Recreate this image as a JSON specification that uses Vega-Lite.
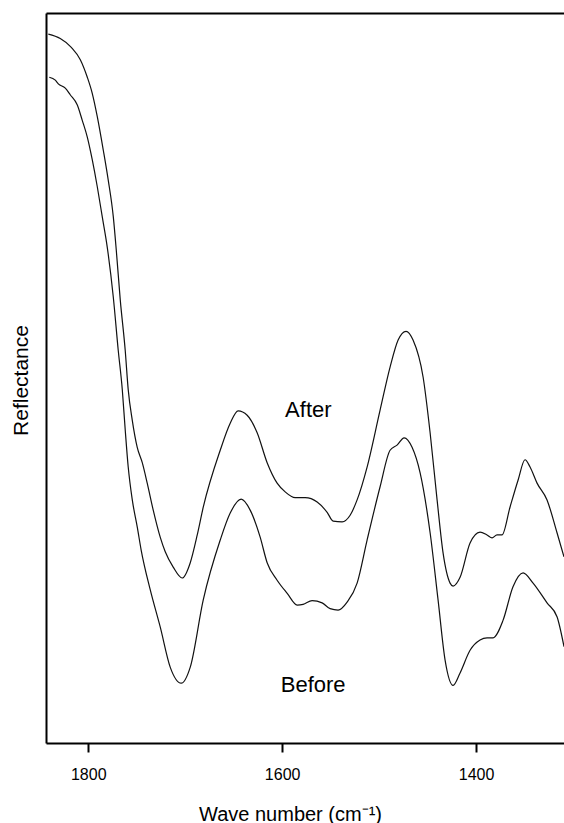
{
  "$schema": "https://vega.github.io/schema/vega-lite/v6.json",
  "width": 518,
  "height": 730,
  "autosize": {"type": "none"},
  "padding": {"left": 46, "top": 13, "right": 0, "bottom": 80},
  "background": "white",
  "config": {
    "view": {"stroke": null},
    "font": "Liberation Sans",
    "axis": {"domainColor": "#000", "domainWidth": 2, "tickColor": "#000", "labelColor": "#000", "titleColor": "#000", "grid": false, "labelFont": "Liberation Sans", "titleFont": "Liberation Sans", "titleFontWeight": "normal"}
  },
  "datasets": {
    "spectra": [
      {"wn": 1841.2, "r": 97.1, "s": "After"},
      {"wn": 1828.9, "r": 96.5, "s": "After"},
      {"wn": 1817.5, "r": 95.3, "s": "After"},
      {"wn": 1808.2, "r": 93.6, "s": "After"},
      {"wn": 1801.0, "r": 91.2, "s": "After"},
      {"wn": 1795.9, "r": 89.0, "s": "After"},
      {"wn": 1790.7, "r": 85.8, "s": "After"},
      {"wn": 1784.5, "r": 81.2, "s": "After"},
      {"wn": 1779.4, "r": 77.1, "s": "After"},
      {"wn": 1774.2, "r": 72.1, "s": "After"},
      {"wn": 1771.1, "r": 67.5, "s": "After"},
      {"wn": 1767.0, "r": 60.7, "s": "After"},
      {"wn": 1761.9, "r": 53.8, "s": "After"},
      {"wn": 1758.8, "r": 48.4, "s": "After"},
      {"wn": 1754.6, "r": 44.2, "s": "After"},
      {"wn": 1749.5, "r": 40.5, "s": "After"},
      {"wn": 1744.3, "r": 38.4, "s": "After"},
      {"wn": 1739.2, "r": 35.6, "s": "After"},
      {"wn": 1733.0, "r": 31.9, "s": "After"},
      {"wn": 1725.8, "r": 28.2, "s": "After"},
      {"wn": 1720.6, "r": 26.2, "s": "After"},
      {"wn": 1712.4, "r": 24.1, "s": "After"},
      {"wn": 1703.1, "r": 22.6, "s": "After"},
      {"wn": 1694.8, "r": 24.7, "s": "After"},
      {"wn": 1687.6, "r": 28.5, "s": "After"},
      {"wn": 1681.4, "r": 32.3, "s": "After"},
      {"wn": 1663.9, "r": 40.1, "s": "After"},
      {"wn": 1653.6, "r": 43.8, "s": "After"},
      {"wn": 1645.4, "r": 45.5, "s": "After"},
      {"wn": 1636.1, "r": 44.9, "s": "After"},
      {"wn": 1625.8, "r": 42.5, "s": "After"},
      {"wn": 1615.5, "r": 38.4, "s": "After"},
      {"wn": 1605.2, "r": 35.6, "s": "After"},
      {"wn": 1596.9, "r": 34.4, "s": "After"},
      {"wn": 1586.6, "r": 33.6, "s": "After"},
      {"wn": 1576.3, "r": 33.6, "s": "After"},
      {"wn": 1563.9, "r": 33.0, "s": "After"},
      {"wn": 1553.6, "r": 31.6, "s": "After"},
      {"wn": 1547.4, "r": 30.4, "s": "After"},
      {"wn": 1538.2, "r": 30.3, "s": "After"},
      {"wn": 1529.9, "r": 31.2, "s": "After"},
      {"wn": 1522.7, "r": 33.3, "s": "After"},
      {"wn": 1512.4, "r": 37.8, "s": "After"},
      {"wn": 1499.0, "r": 45.6, "s": "After"},
      {"wn": 1488.7, "r": 51.5, "s": "After"},
      {"wn": 1480.4, "r": 55.2, "s": "After"},
      {"wn": 1472.2, "r": 56.4, "s": "After"},
      {"wn": 1465.0, "r": 55.2, "s": "After"},
      {"wn": 1454.6, "r": 50.1, "s": "After"},
      {"wn": 1447.4, "r": 42.5, "s": "After"},
      {"wn": 1440.2, "r": 33.3, "s": "After"},
      {"wn": 1434.0, "r": 26.0, "s": "After"},
      {"wn": 1426.8, "r": 21.9, "s": "After"},
      {"wn": 1423.7, "r": 21.5, "s": "After"},
      {"wn": 1416.5, "r": 22.7, "s": "After"},
      {"wn": 1406.2, "r": 27.4, "s": "After"},
      {"wn": 1395.9, "r": 28.9, "s": "After"},
      {"wn": 1388.7, "r": 28.5, "s": "After"},
      {"wn": 1383.5, "r": 28.1, "s": "After"},
      {"wn": 1378.4, "r": 28.5, "s": "After"},
      {"wn": 1373.2, "r": 28.5, "s": "After"},
      {"wn": 1365.0, "r": 32.3, "s": "After"},
      {"wn": 1356.7, "r": 36.0, "s": "After"},
      {"wn": 1349.5, "r": 38.8, "s": "After"},
      {"wn": 1344.3, "r": 37.8, "s": "After"},
      {"wn": 1337.1, "r": 35.6, "s": "After"},
      {"wn": 1326.8, "r": 33.3, "s": "After"},
      {"wn": 1316.5, "r": 28.8, "s": "After"},
      {"wn": 1309.3, "r": 25.5, "s": "After"},
      {"wn": 1840.2, "r": 91.2, "s": "Before"},
      {"wn": 1834.0, "r": 90.8, "s": "Before"},
      {"wn": 1830.9, "r": 90.3, "s": "Before"},
      {"wn": 1823.7, "r": 89.7, "s": "Before"},
      {"wn": 1818.6, "r": 88.8, "s": "Before"},
      {"wn": 1811.3, "r": 87.4, "s": "Before"},
      {"wn": 1806.2, "r": 85.3, "s": "Before"},
      {"wn": 1801.0, "r": 83.0, "s": "Before"},
      {"wn": 1795.9, "r": 79.9, "s": "Before"},
      {"wn": 1790.7, "r": 76.2, "s": "Before"},
      {"wn": 1785.6, "r": 72.1, "s": "Before"},
      {"wn": 1780.4, "r": 67.9, "s": "Before"},
      {"wn": 1774.2, "r": 61.1, "s": "Before"},
      {"wn": 1769.1, "r": 53.8, "s": "Before"},
      {"wn": 1764.9, "r": 48.4, "s": "Before"},
      {"wn": 1761.9, "r": 42.9, "s": "Before"},
      {"wn": 1758.8, "r": 37.8, "s": "Before"},
      {"wn": 1754.6, "r": 33.3, "s": "Before"},
      {"wn": 1749.5, "r": 29.6, "s": "Before"},
      {"wn": 1745.4, "r": 26.4, "s": "Before"},
      {"wn": 1736.1, "r": 21.0, "s": "Before"},
      {"wn": 1725.8, "r": 15.9, "s": "Before"},
      {"wn": 1715.5, "r": 10.4, "s": "Before"},
      {"wn": 1704.1, "r": 8.2, "s": "Before"},
      {"wn": 1694.8, "r": 10.4, "s": "Before"},
      {"wn": 1681.4, "r": 19.6, "s": "Before"},
      {"wn": 1663.9, "r": 27.8, "s": "Before"},
      {"wn": 1653.6, "r": 31.5, "s": "Before"},
      {"wn": 1642.3, "r": 33.4, "s": "Before"},
      {"wn": 1633.0, "r": 31.9, "s": "Before"},
      {"wn": 1622.7, "r": 28.2, "s": "Before"},
      {"wn": 1615.5, "r": 24.7, "s": "Before"},
      {"wn": 1605.2, "r": 22.3, "s": "Before"},
      {"wn": 1594.8, "r": 20.5, "s": "Before"},
      {"wn": 1584.5, "r": 18.9, "s": "Before"},
      {"wn": 1578.4, "r": 19.0, "s": "Before"},
      {"wn": 1569.1, "r": 19.5, "s": "Before"},
      {"wn": 1558.8, "r": 19.2, "s": "Before"},
      {"wn": 1550.5, "r": 18.4, "s": "Before"},
      {"wn": 1542.3, "r": 18.2, "s": "Before"},
      {"wn": 1533.0, "r": 19.3, "s": "Before"},
      {"wn": 1522.7, "r": 21.9, "s": "Before"},
      {"wn": 1512.4, "r": 27.8, "s": "Before"},
      {"wn": 1499.0, "r": 35.1, "s": "Before"},
      {"wn": 1488.7, "r": 40.1, "s": "Before"},
      {"wn": 1481.5, "r": 40.8, "s": "Before"},
      {"wn": 1474.2, "r": 41.8, "s": "Before"},
      {"wn": 1466.0, "r": 40.5, "s": "Before"},
      {"wn": 1457.7, "r": 37.0, "s": "Before"},
      {"wn": 1447.4, "r": 28.8, "s": "Before"},
      {"wn": 1439.2, "r": 19.6, "s": "Before"},
      {"wn": 1432.0, "r": 11.4, "s": "Before"},
      {"wn": 1423.7, "r": 7.9, "s": "Before"},
      {"wn": 1416.5, "r": 9.6, "s": "Before"},
      {"wn": 1406.2, "r": 12.7, "s": "Before"},
      {"wn": 1395.9, "r": 14.1, "s": "Before"},
      {"wn": 1388.7, "r": 14.4, "s": "Before"},
      {"wn": 1382.5, "r": 14.4, "s": "Before"},
      {"wn": 1372.2, "r": 16.8, "s": "Before"},
      {"wn": 1361.9, "r": 21.4, "s": "Before"},
      {"wn": 1351.5, "r": 23.3, "s": "Before"},
      {"wn": 1341.2, "r": 21.9, "s": "Before"},
      {"wn": 1326.8, "r": 19.2, "s": "Before"},
      {"wn": 1316.5, "r": 17.3, "s": "Before"},
      {"wn": 1309.3, "r": 13.2, "s": "Before"}
    ],
    "labels": [
      {"wn": 1573, "r": 45.6, "label": "After"},
      {"wn": 1568, "r": 7.9, "label": "Before"}
    ]
  },
  "resolve": {"axis": {"x": "independent", "y": "independent"}},
  "layer": [
    {
      "data": {"name": "spectra"},
      "mark": {"type": "line", "color": "#111", "strokeWidth": 1.2, "clip": true, "interpolate": "monotone"},
      "encoding": {
        "x": {
          "field": "wn", "type": "quantitative",
          "scale": {"domain": [1309.3, 1843.6], "reverse": true, "nice": false, "zero": false},
          "axis": {"orient": "bottom", "values": [1800, 1600, 1400], "format": "d", "tickSize": 9, "tickWidth": 2, "labelFontSize": 16, "labelPadding": 14, "title": "Wave number (cm\u207b\u00b9)", "titleFontSize": 20, "titleBaseline": "alphabetic", "titleY": 77, "titleX": 244}
        },
        "y": {
          "field": "r", "type": "quantitative",
          "scale": {"domain": [0, 100], "nice": false},
          "axis": {"ticks": false, "labels": false, "title": "Reflectance", "titleFontSize": 21, "titleBaseline": "alphabetic", "titleX": -19, "titleY": 367, "titleAngle": -90}
        },
        "detail": {"field": "s"}
      }
    },
    {
      "data": {"name": "labels"},
      "mark": {"type": "text", "fontSize": 22, "color": "#000", "font": "Liberation Sans"},
      "encoding": {
        "x": {
          "field": "wn", "type": "quantitative",
          "scale": {"domain": [1309.3, 1843.6], "reverse": true, "nice": false, "zero": false},
          "axis": {"orient": "top", "ticks": false, "labels": false, "title": null, "domainWidth": 2}
        },
        "y": {"field": "r", "type": "quantitative", "scale": {"domain": [0, 100], "nice": false}, "axis": null},
        "text": {"field": "label"}
      }
    }
  ]
}
